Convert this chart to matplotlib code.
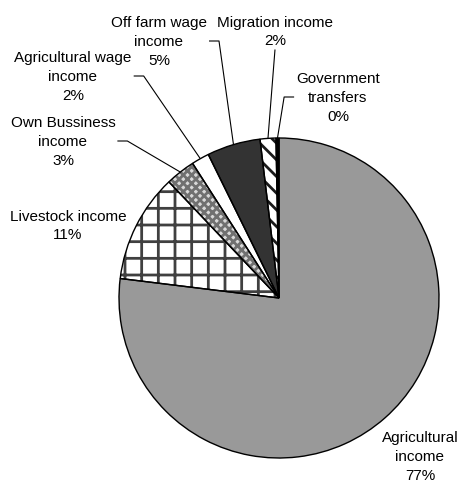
import numpy as np
import matplotlib
matplotlib.use("Agg")
import matplotlib.pyplot as plt

plt.rcParams['font.family'] = ['Liberation Sans', 'DejaVu Sans']

# ==================== DATA ====================

names = ['Agricultural\nincome', 'Livestock income', 'Own Bussiness\nincome',
         'Agricultural wage\nincome', 'Off farm wage\nincome', 'Migration income',
         'Government\ntransfers']
shares = [77.1, 11.0, 3.0, 1.8, 5.4, 1.6, 0.3]

face_colors = ['#999999', 'white', '#d8d8d8', 'white', '#333333', 'white', 'black']
hatches = [None, '+', 'xxxx', None, None, '\\\\', None]
hatch_colors = ['#999999', '#404040', '#707070', 'white', '#333333', '#1a1a1a', 'black']

# label centres in pixels (x, y from top) and where the leader line leaves
label_px = [(420, 457), (68, 226), (63, 142), (73, 77), (159, 42), (275, 32), (338, 98)]
leader_side = [None, None, 'right', 'right', 'right', 'below', 'left']

# ==================== FIGURE ====================

W, H = 470, 485
CX, CY, R = 279, 299, 160

fig = plt.figure(figsize=(W / 100, H / 100), dpi=100)
ax = fig.add_axes([0, 0, 1, 1])

plt.rcParams['hatch.linewidth'] = 2.0

wedges, _ = ax.pie(shares, startangle=90, counterclock=False, radius=1,
                   colors=face_colors, wedgeprops=dict(linewidth=0))

for w, h, hc in zip(wedges, hatches, hatch_colors):
    w.set_edgecolor(hc)
    if h:
        w.set_hatch(h)

# outlines
ax.pie(shares, startangle=90, counterclock=False, radius=1,
       colors=['none'] * len(shares),
       wedgeprops=dict(linewidth=1.0, edgecolor='black', fill=False))

ax.set_xlim(-CX / R, (W - CX) / R)
ax.set_ylim((CY - H) / R, CY / R)
ax.set_aspect('equal')
ax.axis('off')


def to_data(px, py):
    return (px - CX) / R, (CY - py) / R


total = sum(shares)
for i, (name, val) in enumerate(zip(names, shares)):
    pct = val / total * 100
    label = name + '\n' + f'{pct:.0f}%'
    lx, ly = to_data(*label_px[i])
    t = ax.text(lx, ly, label, ha='center', va='center', fontsize=11,
                multialignment='center', linespacing=1.45)

    side = leader_side[i]
    if side is None:
        continue
    # mid angle of the wedge
    w = wedges[i]
    mid = np.deg2rad((w.theta1 + w.theta2) / 2)
    ex, ey = np.cos(mid), np.sin(mid)

    fig.canvas.draw()
    bb = t.get_window_extent().transformed(ax.transData.inverted())
    if side == 'right':
        y0 = ly
        x0 = bb.x1 + 2 / R
        xs = [x0, x0 + 10 / R, ex]
        ys = [y0, y0, ey]
    elif side == 'left':
        y0 = ly
        x0 = bb.x0 - 2 / R
        xs = [x0, x0 - 10 / R, ex]
        ys = [y0, y0, ey]
    else:
        xs = [lx, ex]
        ys = [bb.y0 - 2 / R, ey]
    ax.plot(xs, ys, color='black', linewidth=0.8, solid_capstyle='butt')

fig.savefig('out.png', dpi=100)
